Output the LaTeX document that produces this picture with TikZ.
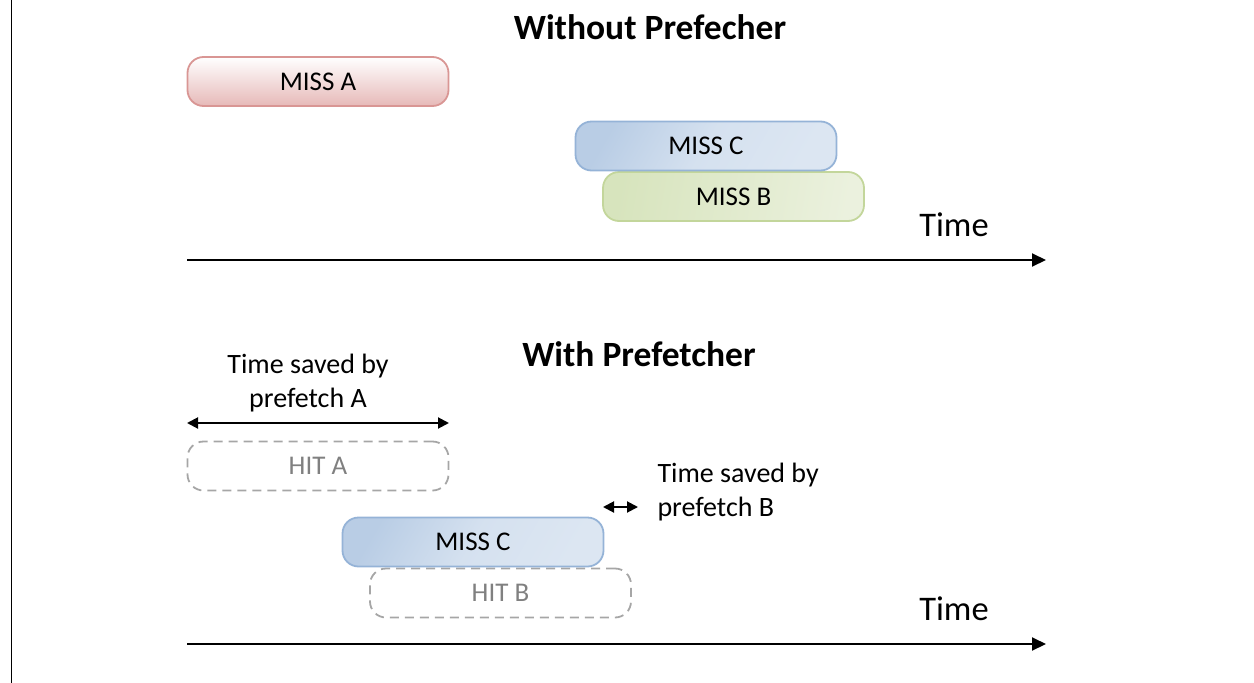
\documentclass[tikz,border=0pt]{standalone}
\usepackage{fontspec}
\setmainfont{Carlito}
\usetikzlibrary{arrows.meta,shapes.misc}
\definecolor{redB}{HTML}{D99694}
\definecolor{redF}{HTML}{E6B9B8}
\definecolor{blueB}{HTML}{95B3D7}
\definecolor{blueF}{HTML}{B9CDE5}
\definecolor{blueL}{HTML}{DCE6F2}
\definecolor{greenB}{HTML}{C3D69B}
\definecolor{greenF}{HTML}{D7E4BD}
\definecolor{greenL}{HTML}{EBF1DE}
\definecolor{hitB}{HTML}{A6A6A6}
\definecolor{hitT}{HTML}{808080}
\tikzset{
  bar/.style={rounded corners=16pt, minimum width=261pt, minimum height=49pt, line width=1.8pt, inner sep=0pt, font=\fontsize{27}{32}\selectfont},
  redbar/.style={bar, draw=redB, top color=white, bottom color=redF},
  bluebar/.style={bar, draw=blueB, left color=blueF, right color=blueL, middle color=blueL!80!blueF, shading angle=60},
  greenbar/.style={bar, draw=greenB, left color=greenF, right color=greenL, shading angle=80},
  hitbar/.style={bar, draw=hitB, dash pattern=on 9pt off 6pt, text=hitT},
  ttl/.style={font=\fontsize{35.5}{40}\bfseries\selectfont},
  lbl/.style={font=\fontsize{28}{34}\selectfont},
  timelbl/.style={font=\fontsize{34.5}{40}\selectfont},
  axis/.style={line width=2pt, -{Triangle[length=14pt,width=13pt]}},
  span/.style={line width=2pt, {Triangle[length=11pt,width=11pt]}-{Triangle[length=11pt,width=11pt]}},
}
\begin{document}
\begin{tikzpicture}[x=1pt,y=-1pt]
\useasboundingbox (0,0) rectangle (1254,683);
\coordinate (lt) at (11.5,0);
\coordinate (lb) at (11.5,683);
\draw[line width=1.5pt] (lt) -- (lb);

% top
\node[ttl] (t1) at (650,27) {Without Prefecher};
\node[redbar] (ma) at (318,81.5) {MISS A};
\node[greenbar] (mb) at (733.5,196.5) {MISS B};
\node[bluebar] (mc) at (706,146) {MISS C};
\node[timelbl] (time1) at (954,225) {Time};
\coordinate (a1s) at (187,260);
\coordinate (a1e) at (1046,260);
\draw[axis] (a1s) -- (a1e);

% bottom
\node[ttl] (t2) at (639,354) {With Prefetcher};
\node[lbl, align=center] (sa) at (308,383) {Time saved by\\prefetch A};
\coordinate (sas) at (187,423);
\coordinate (sae) at (449,423);
\draw[span] (sas) -- (sae);
\node[hitbar] (ha) at (318,466) {HIT A};
\node[hitbar] (hb) at (500.5,593) {HIT B};
\node[bluebar] (mc2) at (473,542) {MISS C};
\node[lbl, align=left, anchor=west] (sb) at (654,492) {Time saved by\\prefetch B};
\coordinate (sbs) at (603,507);
\coordinate (sbe) at (638,507);
\draw[span] (sbs) -- (sbe);
\node[timelbl] (time2) at (954,609) {Time};
\coordinate (a2s) at (187,644);
\coordinate (a2e) at (1046,644);
\draw[axis] (a2s) -- (a2e);
\end{tikzpicture}
\end{document}
